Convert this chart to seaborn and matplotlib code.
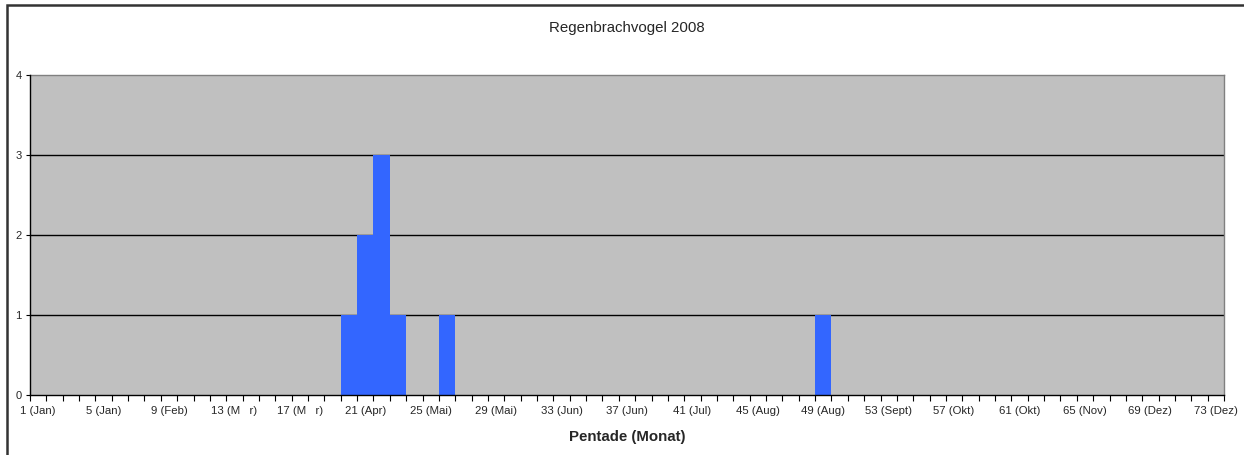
import numpy as np
import pandas as pd
import matplotlib
matplotlib.use("Agg")
import matplotlib.pyplot as plt
import seaborn as sns
from matplotlib.patches import Rectangle

# --------------------------------------------------
# Data
# --------------------------------------------------

pentades = list(range(1, 74))
obs_pentade = [20, 21, 22, 23, 26, 49]
obs_count = [1, 2, 3, 1, 1, 1]

tick_labels = ["1 (Jan)", "5 (Jan)", "9 (Feb)", "13 (M   r)", "17 (M   r)", "21 (Apr)",
               "25 (Mai)", "29 (Mai)", "33 (Jun)", "37 (Jun)", "41 (Jul)", "45 (Aug)",
               "49 (Aug)", "53 (Sept)", "57 (Okt)", "61 (Okt)", "65 (Nov)", "69 (Dez)",
               "73 (Dez)"]
tick_pentades = list(range(1, 74, 4))

counts = dict(zip(obs_pentade, obs_count))
df = pd.DataFrame({"pentade": pentades,
                   "anzahl": [counts.get(p, 0) for p in pentades]})

# --------------------------------------------------
# Style
# --------------------------------------------------

sns.set_style("white")
plt.rcParams["font.family"] = ["Liberation Sans", "DejaVu Sans"]

W, H = 1244, 455
fig = plt.figure(figsize=(W / 100, H / 100), dpi=100)
ax = fig.add_axes([30 / W, 1 - 395 / H, (1224 - 30) / W, (395 - 75) / H])
ax.set_facecolor("#C0C0C0")

sns.barplot(data=df, x="pentade", y="anzahl", order=pentades, color="#3366FF",
            width=1.0, saturation=1, linewidth=0, ax=ax, zorder=3)

ax.set_xlim(-0.5, len(pentades) - 0.5)
ax.set_ylim(0, 4)

# gridlines
for v in [1, 2, 3]:
    ax.axhline(v, color="black", lw=1.0, zorder=2)

# y axis
ax.set_yticks([0, 1, 2, 3, 4])
ax.set_yticklabels(["0", "1", "2", "3", "4"], fontsize=8)
ax.tick_params(axis="y", length=3, width=0.8, color="black", pad=3, left=True)

# x axis: tick marks between categories, labels at category centres
ax.set_xticks(np.arange(-0.5, len(pentades), 1))
ax.set_xticklabels([])
ax.tick_params(axis="x", which="major", length=4, width=0.8, color="black", bottom=True)
ax.set_xticks([p - 1 for p in tick_pentades], minor=True)
ax.set_xticklabels(tick_labels, minor=True, fontsize=8.2)
ax.tick_params(axis="x", which="minor", length=0, pad=8)

for side in ["top", "right"]:
    ax.spines[side].set_color("#808080")
    ax.spines[side].set_linewidth(1.0)
for side in ["left", "bottom"]:
    ax.spines[side].set_color("black")
    ax.spines[side].set_linewidth(1.0)
    ax.spines[side].set_zorder(4)

ax.set_xlabel("Pentade (Monat)", fontsize=10.8, fontweight="bold", labelpad=10)
ax.set_ylabel("")

fig.text(627 / W, 1 - 28 / H, "Regenbrachvogel 2008", ha="center", va="center", fontsize=10.8)

# outer chart frame (partly cut off at right and bottom)
fig.patches.append(Rectangle((7 / W, -0.05), 1.05, 1 - 5 / H + 0.05,
                             transform=fig.transFigure, fill=False,
                             edgecolor="#333333", lw=1.8))

fig.savefig("out.png", dpi=100)
